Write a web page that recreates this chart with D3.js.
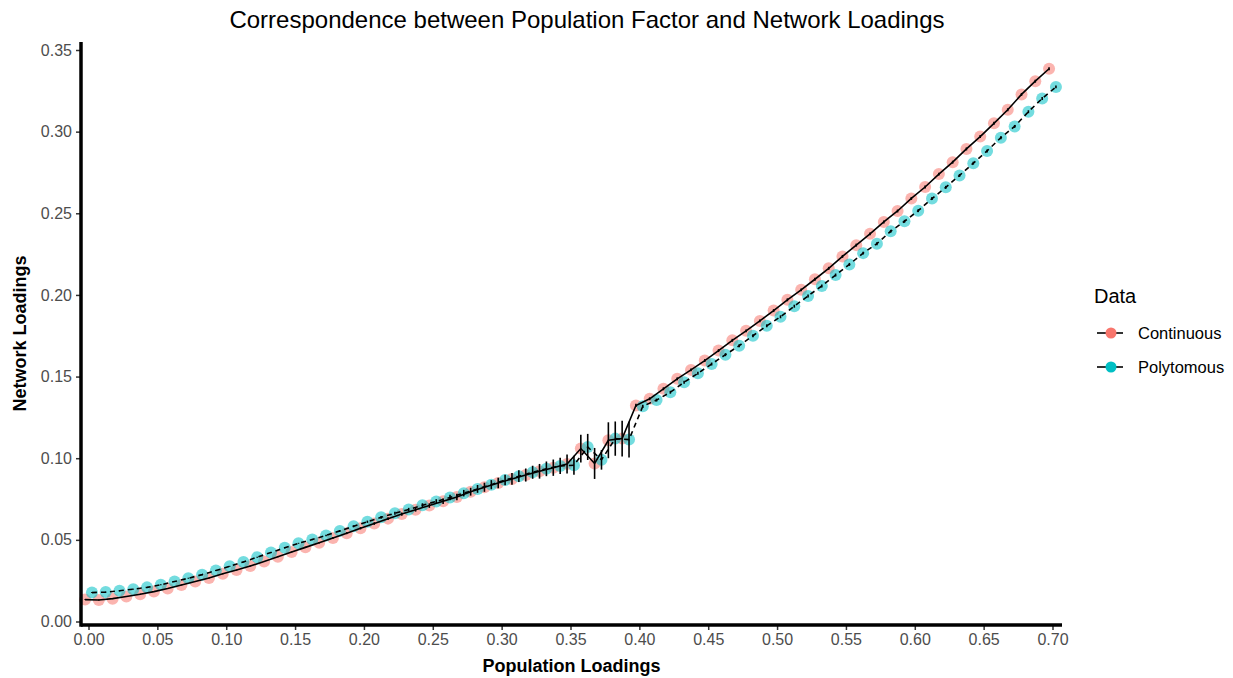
<!DOCTYPE html>
<html>
<head>
<meta charset="utf-8">
<script src="https://cdn.jsdelivr.net/npm/d3@7"></script>
<style>
  html, body { margin: 0; padding: 0; background: #fff; }
  svg { display: block; font-family: "Liberation Sans", Arial, sans-serif; }
</style>
</head>
<body>
<div id="chart"></div>
<script>
// population loadings (x) shared by both series
const popLoadings = [
    0.00, 0.01, 0.02, 0.03, 0.04, 0.05, 0.06, 0.07, 0.08, 0.09,
    0.10, 0.11, 0.12, 0.13, 0.14, 0.15, 0.16, 0.17, 0.18, 0.19,
    0.20, 0.21, 0.22, 0.23, 0.24, 0.25, 0.26, 0.27, 0.28, 0.29,
    0.30, 0.31, 0.32, 0.33, 0.34, 0.35, 0.36, 0.37, 0.38, 0.39,
    0.40, 0.41, 0.42, 0.43, 0.44, 0.45, 0.46, 0.47, 0.48, 0.49,
    0.50, 0.51, 0.52, 0.53, 0.54, 0.55, 0.56, 0.57, 0.58, 0.59,
    0.60, 0.61, 0.62, 0.63, 0.64, 0.65, 0.66, 0.67, 0.68, 0.69,
    0.70
];

const continuousValues = [
    0.0134, 0.0132, 0.0140, 0.0153, 0.0167, 0.0183, 0.0202, 0.0224, 0.0245, 0.0266,
    0.0292, 0.0315, 0.0340, 0.0367, 0.0396, 0.0426, 0.0454, 0.0482, 0.0512, 0.0541,
    0.0571, 0.0600, 0.0630, 0.0658, 0.0685, 0.0710, 0.0737, 0.0763, 0.0795, 0.0822,
    0.0848, 0.0873, 0.0897, 0.0920, 0.0942, 0.0965, 0.1059, 0.0968, 0.1110, 0.1120,
    0.1323, 0.1364, 0.1425, 0.1486, 0.1541, 0.1598, 0.1659, 0.1722, 0.1780, 0.1841,
    0.1904, 0.1970, 0.2031, 0.2096, 0.2163, 0.2236, 0.2305, 0.2374, 0.2447, 0.2514,
    0.2591, 0.2661, 0.2740, 0.2813, 0.2894, 0.2970, 0.3051, 0.3134, 0.3228, 0.3309,
    0.3385
];

const continuousErr = [
    0.0003, 0.0003, 0.0003, 0.0003, 0.0003, 0.0003, 0.0003, 0.0003, 0.0003, 0.0003,
    0.0003, 0.0003, 0.0003, 0.0003, 0.0003, 0.0003, 0.0004, 0.0005, 0.0005, 0.0006,
    0.0007, 0.0008, 0.0009, 0.0010, 0.0012, 0.0014, 0.0017, 0.0020, 0.0024, 0.0028,
    0.0032, 0.0036, 0.0040, 0.0045, 0.0050, 0.0058, 0.0085, 0.0095, 0.0110, 0.0110,
    0.0010, 0.0009, 0.0009, 0.0009, 0.0009, 0.0009, 0.0009, 0.0009, 0.0009, 0.0009,
    0.0009, 0.0009, 0.0009, 0.0009, 0.0009, 0.0009, 0.0009, 0.0009, 0.0009, 0.0009,
    0.0009, 0.0009, 0.0009, 0.0009, 0.0009, 0.0009, 0.0009, 0.0009, 0.0009, 0.0009,
    0.0009
];

const polytomousValues = [
    0.0177, 0.0180, 0.0188, 0.0198, 0.0209, 0.0225, 0.0245, 0.0265, 0.0287, 0.0312,
    0.0338, 0.0365, 0.0394, 0.0423, 0.0451, 0.0479, 0.0502, 0.0527, 0.0555, 0.0583,
    0.0611, 0.0638, 0.0663, 0.0686, 0.0712, 0.0735, 0.0760, 0.0786, 0.0812, 0.0838,
    0.0866, 0.0890, 0.0914, 0.0935, 0.0953, 0.0957, 0.1069, 0.0990, 0.1120, 0.1114,
    0.1318, 0.1356, 0.1404, 0.1465, 0.1520, 0.1577, 0.1634, 0.1689, 0.1750, 0.1811,
    0.1866, 0.1931, 0.1994, 0.2055, 0.2122, 0.2187, 0.2256, 0.2314, 0.2390, 0.2451,
    0.2516, 0.2590, 0.2659, 0.2732, 0.2807, 0.2882, 0.2963, 0.3032, 0.3122, 0.3203,
    0.3274
];

const polytomousErr = [
    0.0003, 0.0003, 0.0003, 0.0003, 0.0003, 0.0003, 0.0003, 0.0003, 0.0003, 0.0003,
    0.0003, 0.0003, 0.0003, 0.0003, 0.0003, 0.0003, 0.0004, 0.0005, 0.0005, 0.0006,
    0.0007, 0.0008, 0.0009, 0.0010, 0.0012, 0.0014, 0.0017, 0.0020, 0.0024, 0.0028,
    0.0032, 0.0036, 0.0040, 0.0045, 0.0050, 0.0058, 0.0080, 0.0060, 0.0105, 0.0110,
    0.0010, 0.0009, 0.0009, 0.0009, 0.0009, 0.0009, 0.0009, 0.0009, 0.0009, 0.0009,
    0.0009, 0.0009, 0.0009, 0.0009, 0.0009, 0.0009, 0.0009, 0.0009, 0.0009, 0.0009,
    0.0009, 0.0009, 0.0009, 0.0009, 0.0009, 0.0009, 0.0009, 0.0009, 0.0009, 0.0009,
    0.0009
];

const seriesNames = ['Continuous', 'Polytomous'];
const xTicks = [0.00, 0.05, 0.10, 0.15, 0.20, 0.25, 0.30, 0.35, 0.40, 0.45, 0.50, 0.55, 0.60, 0.65, 0.70];
const yTicks = [0.00, 0.05, 0.10, 0.15, 0.20, 0.25, 0.30, 0.35];

const width = 1233, height = 678;
const panel = { left: 81, right: 1062, top: 42, bottom: 625 };
const dodge = 0.0025;

const color = d3.scaleOrdinal().domain(seriesNames).range(['#F8766D', '#00BFC4']);
const dashFor = { Continuous: null, Polytomous: '5,4' };

const series = [
    { name: 'Continuous', shift: -dodge, values: continuousValues, err: continuousErr },
    { name: 'Polytomous', shift: dodge, values: polytomousValues, err: polytomousErr }
].map(s => ({
    name: s.name,
    points: popLoadings.map((x, i) => ({ x: x + s.shift, y: s.values[i], e: s.err[i] }))
}));

const svg = d3.select('#chart').append('svg')
    .attr('width', width)
    .attr('height', height);

const xScale = d3.scaleLinear().domain([0, 0.7]).range([88.5, 1052.5]);
const yScale = d3.scaleLinear().domain([0, 0.35]).range([621.5, 50]);

// points first, lines and error bars on top
svg.append('g').selectAll('g')
    .data(series)
    .enter()
    .append('g')
    .selectAll('circle')
    .data(d => d.points.map(p => ({ ...p, name: d.name })))
    .enter()
    .append('circle')
    .attr('cx', d => xScale(d.x))
    .attr('cy', d => yScale(d.y))
    .attr('r', 6)
    .attr('fill', d => color(d.name))
    .attr('fill-opacity', 0.55);

const line = d3.line()
    .x(d => xScale(d.x))
    .y(d => yScale(d.y));

svg.append('g').selectAll('path')
    .data(series)
    .enter()
    .append('path')
    .attr('fill', 'none')
    .attr('stroke', '#000')
    .attr('stroke-width', 1.6)
    .attr('stroke-dasharray', d => dashFor[d.name])
    .attr('d', d => line(d.points));

svg.append('g').selectAll('g')
    .data(series)
    .enter()
    .append('g')
    .selectAll('line')
    .data(d => d.points)
    .enter()
    .append('line')
    .attr('x1', d => xScale(d.x))
    .attr('x2', d => xScale(d.x))
    .attr('y1', d => yScale(d.y - d.e))
    .attr('y2', d => yScale(d.y + d.e))
    .attr('stroke', '#000')
    .attr('stroke-width', 1.6);

// axes
const xAxis = svg.append('g')
    .attr('transform', `translate(0,${panel.bottom})`)
    .call(d3.axisBottom(xScale).tickValues(xTicks).tickFormat(d3.format('.2f')).tickSize(5).tickPadding(4));
const yAxis = svg.append('g')
    .attr('transform', `translate(${panel.left},0)`)
    .call(d3.axisLeft(yScale).tickValues(yTicks).tickFormat(d3.format('.2f')).tickSize(5).tickPadding(4));

[xAxis, yAxis].forEach(a => {
    a.select('.domain').remove();
    a.selectAll('.tick line').attr('stroke', '#333').attr('stroke-width', 1.5);
    a.selectAll('.tick text')
        .attr('fill', '#4D4D4D')
        .style('font-size', '16px')
        .style('font-family', '"Liberation Sans", Arial, sans-serif');
});

svg.append('line')
    .attr('x1', panel.left).attr('x2', panel.right)
    .attr('y1', panel.bottom).attr('y2', panel.bottom)
    .attr('stroke', '#000').attr('stroke-width', 3.5);
svg.append('line')
    .attr('x1', panel.left).attr('x2', panel.left)
    .attr('y1', panel.top).attr('y2', panel.bottom + 1.75)
    .attr('stroke', '#000').attr('stroke-width', 3.5);

// titles
svg.append('text')
    .attr('x', 587)
    .attr('y', 28)
    .attr('text-anchor', 'middle')
    .attr('font-size', 24)
    .attr('fill', '#000')
    .text('Correspondence between Population Factor and Network Loadings');

svg.append('text')
    .attr('x', (panel.left + panel.right) / 2)
    .attr('y', 672)
    .attr('text-anchor', 'middle')
    .attr('font-size', 18)
    .attr('font-weight', 'bold')
    .attr('fill', '#000')
    .text('Population Loadings');

svg.append('text')
    .attr('transform', `translate(26,${(panel.top + panel.bottom) / 2}) rotate(-90)`)
    .attr('text-anchor', 'middle')
    .attr('font-size', 18)
    .attr('font-weight', 'bold')
    .attr('fill', '#000')
    .text('Network Loadings');

// legend
const legend = svg.append('g').attr('transform', 'translate(1094, 0)');
legend.append('text')
    .attr('x', 0)
    .attr('y', 303)
    .attr('font-size', 20)
    .attr('fill', '#000')
    .text('Data');

const items = legend.selectAll('.legend-item')
    .data(seriesNames)
    .enter()
    .append('g')
    .attr('class', 'legend-item')
    .attr('transform', (d, i) => `translate(0, ${333 + i * 34})`);

items.append('line')
    .attr('x1', 3).attr('x2', 29)
    .attr('y1', 0).attr('y2', 0)
    .attr('stroke', '#000')
    .attr('stroke-width', 1.6);

items.append('circle')
    .attr('cx', 17)
    .attr('cy', 0)
    .attr('r', 5.5)
    .attr('fill', d => color(d));

items.append('text')
    .attr('x', 44)
    .attr('y', 5.5)
    .attr('font-size', 16.5)
    .attr('fill', '#000')
    .text(d => d);
</script>
</body>
</html>
